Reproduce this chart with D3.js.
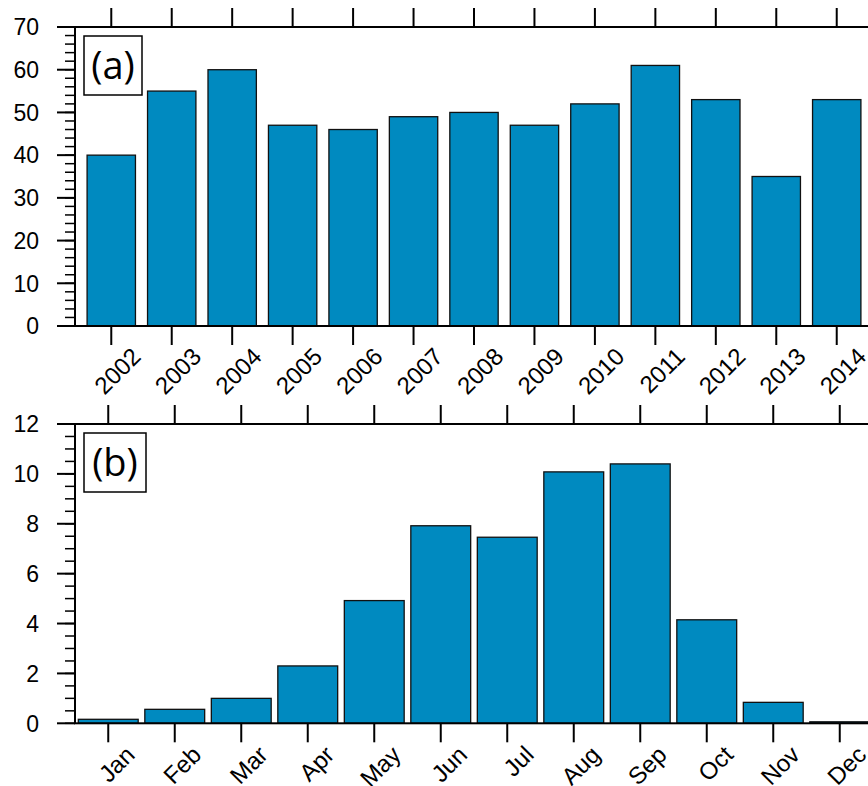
<!DOCTYPE html>
<html>
<head>
<meta charset="utf-8">
<script src="https://cdn.jsdelivr.net/npm/d3@7"></script>
<style>
  html, body { margin: 0; padding: 0; background: #fff; }
  svg { display: block; }
  .tick-label { font-family: "Liberation Sans", Arial, Helvetica, sans-serif; font-size: 23px; fill: #000; }
  .cat-label { font-family: "Liberation Sans", Arial, Helvetica, sans-serif; font-size: 24px; fill: #000; }
  .panel-tag { font-family: "Open Sans", sans-serif; font-size: 38px; fill: #000; }
</style>
</head>
<body>
<svg id="chart" width="868" height="786"></svg>
<script>
// Annual counts, 2002-2014
const years = [2002, 2003, 2004, 2005, 2006, 2007, 2008, 2009, 2010, 2011, 2012, 2013, 2014];
const yearCounts = [40, 55, 60, 47, 46, 49, 50, 47, 52, 61, 53, 35, 53];

// Mean monthly counts
const months = ["Jan", "Feb", "Mar", "Apr", "May", "Jun", "Jul", "Aug", "Sep", "Oct", "Nov", "Dec"];
const monthValues = [0.16, 0.56, 1.0, 2.3, 4.92, 7.92, 7.46, 10.08, 10.4, 4.15, 0.84, 0.06];

// Axis ticks
const yTicksA = [0, 10, 20, 30, 40, 50, 60, 70];
const yTicksB = [0, 2, 4, 6, 8, 10, 12];

const BAR_FILL = "#008ac0";
const svg = d3.select("#chart");

function drawPanel(cfg) {
  const g = svg.append("g");
  const { x, y, left, right, top, bottom } = cfg;

  // bars
  g.selectAll("rect.bar")
    .data(cfg.values)
    .join("rect")
    .attr("class", "bar")
    .attr("x", (d, i) => x(cfg.pos[i] - cfg.halfWidth))
    .attr("width", (d, i) => x(cfg.pos[i] + cfg.halfWidth) - x(cfg.pos[i] - cfg.halfWidth))
    .attr("y", d => y(d))
    .attr("height", d => y(0) - y(d))
    .attr("fill", BAR_FILL)
    .attr("stroke", "#111")
    .attr("stroke-width", 1.3);

  // minor y ticks
  g.selectAll("line.yminor")
    .data(d3.range(cfg.yDomain[0], cfg.yDomain[1] + 1e-9, cfg.yMinor))
    .join("line")
    .attr("x1", left - 10).attr("x2", left)
    .attr("y1", d => y(d)).attr("y2", d => y(d))
    .attr("stroke", "#000").attr("stroke-width", 1.5);

  // major y ticks + labels
  g.selectAll("line.ymajor")
    .data(cfg.yTicks)
    .join("line")
    .attr("x1", left - 18).attr("x2", left)
    .attr("y1", d => y(d)).attr("y2", d => y(d))
    .attr("stroke", "#000").attr("stroke-width", 2);

  g.selectAll("text.ylab")
    .data(cfg.yTicks)
    .join("text")
    .attr("class", "tick-label")
    .attr("x", left - 36)
    .attr("y", d => y(d))
    .attr("dy", "0.36em")
    .attr("text-anchor", "end")
    .text(d => d);

  // x ticks, top and bottom (outward)
  g.selectAll("line.xtop")
    .data(cfg.pos)
    .join("line")
    .attr("x1", d => x(d)).attr("x2", d => x(d))
    .attr("y1", top - 19).attr("y2", top)
    .attr("stroke", "#000").attr("stroke-width", 2);

  g.selectAll("line.xbot")
    .data(cfg.pos)
    .join("line")
    .attr("x1", d => x(d)).attr("x2", d => x(d))
    .attr("y1", bottom).attr("y2", bottom + 19)
    .attr("stroke", "#000").attr("stroke-width", 2);

  // rotated category labels
  g.selectAll("text.xlab")
    .data(cfg.labels)
    .join("text")
    .attr("class", "cat-label")
    .attr("text-anchor", "end")
    .attr("transform", (d, i) =>
      `translate(${x(cfg.pos[i]) + cfg.labelDx},${bottom + cfg.labelDy}) rotate(-45)`)
    .text(d => d);

  // frame
  g.append("rect")
    .attr("x", left).attr("y", top)
    .attr("width", right - left).attr("height", bottom - top)
    .attr("fill", "none").attr("stroke", "#000").attr("stroke-width", 2);

  // panel tag
  const tag = g.append("g");
  tag.append("rect")
    .attr("x", left + 9).attr("y", top + 9)
    .attr("width", cfg.tagWidth).attr("height", 59)
    .attr("fill", "#fff").attr("stroke", "#000").attr("stroke-width", 1.5);
  tag.append("text")
    .attr("class", "panel-tag")
    .attr("x", left + 9 + cfg.tagWidth / 2)
    .attr("y", top + 9 + 43)
    .attr("text-anchor", "middle")
    .text(cfg.tag);
}

// Panel (a): yearly totals
const xA = d3.scaleLinear().domain([years[0] - 0.6, years[years.length - 1] + 0.6]).range([75, 873]);
const yA = d3.scaleLinear().domain([0, 70]).range([326, 27]);
drawPanel({
  x: xA, y: yA, left: 75, right: 873, top: 27, bottom: 326,
  pos: years, values: yearCounts, labels: years.map(String), halfWidth: 0.4,
  yDomain: [0, 70], yTicks: yTicksA, yMinor: 2,
  labelDx: 31, labelDy: 32, tag: "(a)", tagWidth: 58
});

// Panel (b): monthly climatology
const monthPos = months.map((m, i) => i + 1);
const xB = d3.scaleLinear().domain([0.5, 12.5]).range([75, 873]);
const yB = d3.scaleLinear().domain([0, 12]).range([723.3, 424]);
drawPanel({
  x: xB, y: yB, left: 75, right: 873, top: 424, bottom: 723.3,
  pos: monthPos, values: monthValues, labels: months, halfWidth: 0.45,
  yDomain: [0, 12], yTicks: yTicksB, yMinor: 0.5,
  labelDx: 28, labelDy: 33, tag: "(b)", tagWidth: 62
});
</script>
</body>
</html>
